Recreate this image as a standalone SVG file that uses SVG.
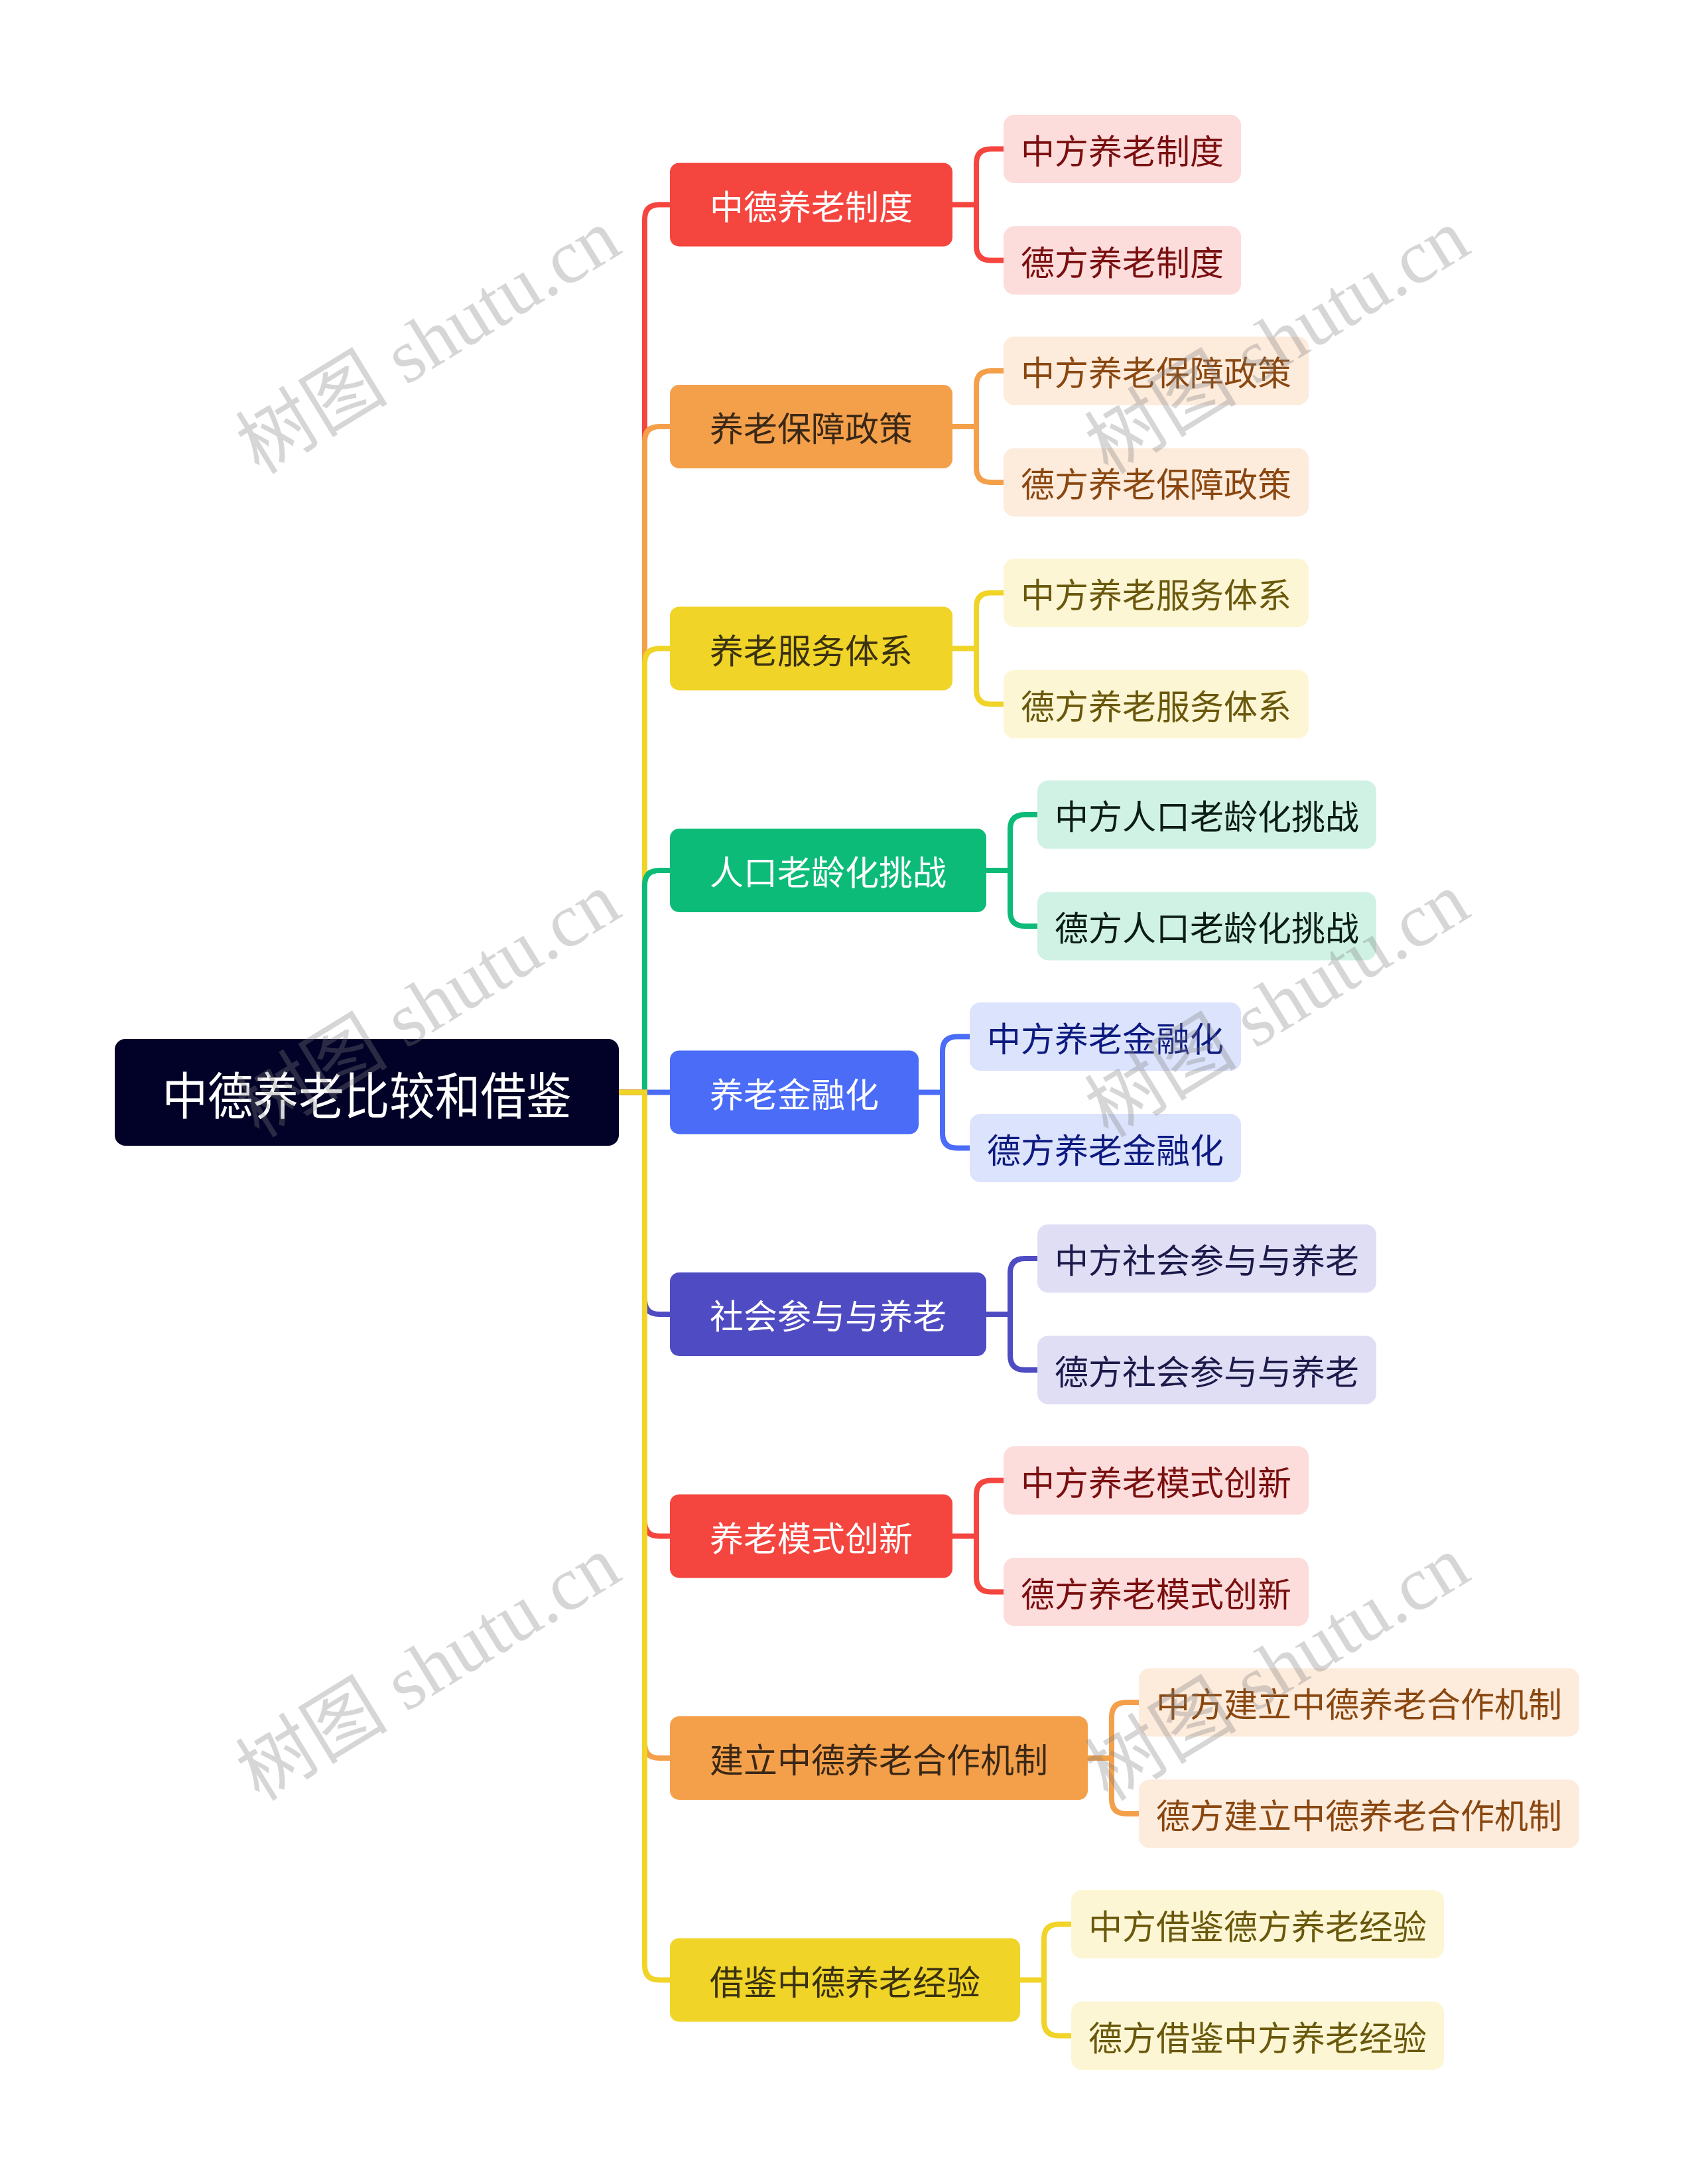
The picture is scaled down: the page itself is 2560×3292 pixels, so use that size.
<svg xmlns="http://www.w3.org/2000/svg" width="2560" height="3292" viewBox="0 0 2560 3292">
<style>
text{font-family:"Noto Sans CJK SC","Noto Sans",sans-serif;text-anchor:middle;dominant-baseline:central}
.root rect{fill:#020228}
.root text{fill:#ffffff;font-size:76px}
.m text{font-size:51px}
.c text{font-size:51px}
.conn path{fill:none;stroke-width:8}
.red.m rect{fill:#f5453f}.red.m text{fill:#ffffff}
.red.c rect{fill:#fddcdc}.red.c text{fill:#7a0f0f}
.ora.m rect{fill:#f4a04b}.ora.m text{fill:#3a2816}
.ora.c rect{fill:#fdebdc}.ora.c text{fill:#8a4710}
.yel.m rect{fill:#f0d428}.yel.m text{fill:#3a3210}
.yel.c rect{fill:#fcf6d4}.yel.c text{fill:#6a580c}
.grn.m rect{fill:#0dbb79}.grn.m text{fill:#ffffff}
.grn.c rect{fill:#d0f2e4}.grn.c text{fill:#0b1d14}
.blu.m rect{fill:#4a6cf6}.blu.m text{fill:#ffffff}
.blu.c rect{fill:#dce3fd}.blu.c text{fill:#0d1a80}
.ind.m rect{fill:#4f4bc2}.ind.m text{fill:#ffffff}
.ind.c rect{fill:#dfdef4}.ind.c text{fill:#1c1a4a}
.sred{stroke:#f5453f}.sora{stroke:#f4a04b}.syel{stroke:#f0d428}.sgrn{stroke:#0dbb79}.sblu{stroke:#4a6cf6}.sind{stroke:#4f4bc2}
.wm{font-family:"Liberation Serif","Noto Sans CJK SC",serif;font-size:115px;fill:#7f7f7f;fill-opacity:0.32}
</style>

<g id="connectors" class="conn">
  <path class="sred" d="M933 1646.5 H972 V330.5 Q972 308.5 994 308.5 H1010"/>
  <path class="sora" d="M933 1646.5 H972 V665 Q972 643 994 643 H1010"/>
  <path class="syel" d="M933 1646.5 H972 V999.5 Q972 977.5 994 977.5 H1010"/>
  <path class="sgrn" d="M933 1646.5 H972 V1334 Q972 1312 994 1312 H1010"/>
  <path class="sblu" d="M933 1646.5 H1010"/>
  <path class="sind" d="M933 1646.5 H972 V1959 Q972 1981 994 1981 H1010"/>
  <path class="sred" d="M933 1646.5 H972 V2293.5 Q972 2315.5 994 2315.5 H1010"/>
  <path class="sora" d="M933 1646.5 H972 V2628 Q972 2650 994 2650 H1010"/>
  <path class="syel" d="M933 1646.5 H972 V2962.5 Q972 2984.5 994 2984.5 H1010"/>
  <path class="sred" d="M1436 308.5 H1472 V246.5 Q1472 224.5 1494 224.5 H1513 M1472 308.5 V370.5 Q1472 392.5 1494 392.5 H1513"/>
  <path class="sora" d="M1436 643 H1472 V581 Q1472 559 1494 559 H1513 M1472 643 V705 Q1472 727 1494 727 H1513"/>
  <path class="syel" d="M1436 977.5 H1472 V915.5 Q1472 893.5 1494 893.5 H1513 M1472 977.5 V1039.5 Q1472 1061.5 1494 1061.5 H1513"/>
  <path class="sgrn" d="M1487 1312 H1523 V1250 Q1523 1228 1545 1228 H1564 M1523 1312 V1374 Q1523 1396 1545 1396 H1564"/>
  <path class="sblu" d="M1385 1646.5 H1421 V1584.5 Q1421 1562.5 1443 1562.5 H1462 M1421 1646.5 V1708.5 Q1421 1730.5 1443 1730.5 H1462"/>
  <path class="sind" d="M1487 1981 H1523 V1919 Q1523 1897 1545 1897 H1564 M1523 1981 V2043 Q1523 2065 1545 2065 H1564"/>
  <path class="sred" d="M1436 2315.5 H1472 V2253.5 Q1472 2231.5 1494 2231.5 H1513 M1472 2315.5 V2377.5 Q1472 2399.5 1494 2399.5 H1513"/>
  <path class="sora" d="M1640 2650 H1676 V2588 Q1676 2566 1698 2566 H1717 M1676 2650 V2712 Q1676 2734 1698 2734 H1717"/>
  <path class="syel" d="M1538 2984.5 H1574 V2922.5 Q1574 2900.5 1596 2900.5 H1615 M1574 2984.5 V3046.5 Q1574 3068.5 1596 3068.5 H1615"/>
</g>

<g id="root" class="root">
  <rect x="173" y="1566" width="760" height="161" rx="16"/>
  <text x="553" y="1646.5" textLength="617" lengthAdjust="spacingAndGlyphs">中德养老比较和借鉴</text>
</g>

<g id="n1" class="red m"><rect x="1010" y="245.5" width="426" height="126" rx="14"/><text x="1223" y="308.5">中德养老制度</text></g>
<g id="n1a" class="red c"><rect x="1513" y="173" width="358" height="103" rx="16"/><text x="1692" y="224.5">中方养老制度</text></g>
<g id="n1b" class="red c"><rect x="1513" y="341" width="358" height="103" rx="16"/><text x="1692" y="392.5">德方养老制度</text></g>

<g id="n2" class="ora m"><rect x="1010" y="580" width="426" height="126" rx="14"/><text x="1223" y="643">养老保障政策</text></g>
<g id="n2a" class="ora c"><rect x="1513" y="507.5" width="460" height="103" rx="16"/><text x="1743" y="559">中方养老保障政策</text></g>
<g id="n2b" class="ora c"><rect x="1513" y="675.5" width="460" height="103" rx="16"/><text x="1743" y="727">德方养老保障政策</text></g>

<g id="n3" class="yel m"><rect x="1010" y="914.5" width="426" height="126" rx="14"/><text x="1223" y="977.5">养老服务体系</text></g>
<g id="n3a" class="yel c"><rect x="1513" y="842" width="460" height="103" rx="16"/><text x="1743" y="893.5">中方养老服务体系</text></g>
<g id="n3b" class="yel c"><rect x="1513" y="1010" width="460" height="103" rx="16"/><text x="1743" y="1061.5">德方养老服务体系</text></g>

<g id="n4" class="grn m"><rect x="1010" y="1249" width="477" height="126" rx="14"/><text x="1248.5" y="1312">人口老龄化挑战</text></g>
<g id="n4a" class="grn c"><rect x="1564" y="1176.5" width="511" height="103" rx="16"/><text x="1819.5" y="1228">中方人口老龄化挑战</text></g>
<g id="n4b" class="grn c"><rect x="1564" y="1344.5" width="511" height="103" rx="16"/><text x="1819.5" y="1396">德方人口老龄化挑战</text></g>

<g id="n5" class="blu m"><rect x="1010" y="1583.5" width="375" height="126" rx="14"/><text x="1197.5" y="1646.5">养老金融化</text></g>
<g id="n5a" class="blu c"><rect x="1462" y="1511" width="409" height="103" rx="16"/><text x="1666.5" y="1562.5">中方养老金融化</text></g>
<g id="n5b" class="blu c"><rect x="1462" y="1679" width="409" height="103" rx="16"/><text x="1666.5" y="1730.5">德方养老金融化</text></g>

<g id="n6" class="ind m"><rect x="1010" y="1918" width="477" height="126" rx="14"/><text x="1248.5" y="1981">社会参与与养老</text></g>
<g id="n6a" class="ind c"><rect x="1564" y="1845.5" width="511" height="103" rx="16"/><text x="1819.5" y="1897">中方社会参与与养老</text></g>
<g id="n6b" class="ind c"><rect x="1564" y="2013.5" width="511" height="103" rx="16"/><text x="1819.5" y="2065">德方社会参与与养老</text></g>

<g id="n7" class="red m"><rect x="1010" y="2252.5" width="426" height="126" rx="14"/><text x="1223" y="2315.5">养老模式创新</text></g>
<g id="n7a" class="red c"><rect x="1513" y="2180" width="460" height="103" rx="16"/><text x="1743" y="2231.5">中方养老模式创新</text></g>
<g id="n7b" class="red c"><rect x="1513" y="2348" width="460" height="103" rx="16"/><text x="1743" y="2399.5">德方养老模式创新</text></g>

<g id="n8" class="ora m"><rect x="1010" y="2587" width="630" height="126" rx="14"/><text x="1325" y="2650">建立中德养老合作机制</text></g>
<g id="n8a" class="ora c"><rect x="1717" y="2514.5" width="664" height="103" rx="16"/><text x="2049" y="2566">中方建立中德养老合作机制</text></g>
<g id="n8b" class="ora c"><rect x="1717" y="2682.5" width="664" height="103" rx="16"/><text x="2049" y="2734">德方建立中德养老合作机制</text></g>

<g id="n9" class="yel m"><rect x="1010" y="2921.5" width="528" height="126" rx="14"/><text x="1274" y="2984.5">借鉴中德养老经验</text></g>
<g id="n9a" class="yel c"><rect x="1615" y="2849" width="562" height="103" rx="16"/><text x="1896" y="2900.5">中方借鉴德方养老经验</text></g>
<g id="n9b" class="yel c"><rect x="1615" y="3017" width="562" height="103" rx="16"/><text x="1896" y="3068.5">德方借鉴中方养老经验</text></g>

<g id="watermarks">
  <text class="wm" transform="translate(646 515) rotate(-31.5)">树图 shutu.cn</text>
  <text class="wm" transform="translate(1926 515) rotate(-31.5)">树图 shutu.cn</text>
  <text class="wm" transform="translate(646 1515) rotate(-31.5)">树图 shutu.cn</text>
  <text class="wm" transform="translate(1926 1515) rotate(-31.5)">树图 shutu.cn</text>
  <text class="wm" transform="translate(646 2515) rotate(-31.5)">树图 shutu.cn</text>
  <text class="wm" transform="translate(1926 2515) rotate(-31.5)">树图 shutu.cn</text>
</g>
</svg>
